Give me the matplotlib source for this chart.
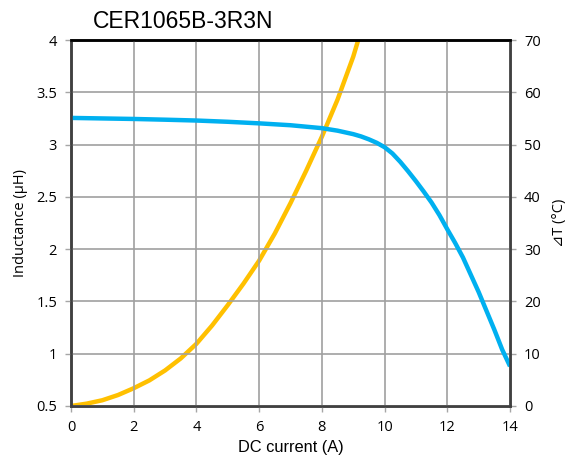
import matplotlib
matplotlib.use("Agg")
import matplotlib.pyplot as plt

# DC current (A) vs inductance (uH)
current_L = [0, 1, 2, 3, 4, 5, 6, 7, 8, 8.5, 9, 9.25, 9.5, 9.75, 10, 10.25, 10.5, 10.75, 11, 11.25, 11.5,
             11.75, 12, 12.25, 12.5, 12.75, 13, 13.25, 13.5, 13.75, 14]
inductance = [3.255, 3.25, 3.245, 3.238, 3.23, 3.218, 3.203, 3.185, 3.157, 3.133, 3.1, 3.078, 3.05, 3.017,
              2.975, 2.915, 2.835, 2.745, 2.65, 2.55, 2.445, 2.325, 2.19, 2.06, 1.92, 1.755, 1.59, 1.41,
              1.23, 1.04, 0.88]

# DC current (A) vs temperature rise (C)
current_T = [0, 0.5, 1, 1.5, 2, 2.5, 3, 3.5, 4, 4.5, 5, 5.5, 6, 6.5, 7, 7.5, 8, 8.5, 9, 9.16]
temp_rise = [0, 0.45, 1.1, 2.1, 3.4, 4.9, 6.8, 9.1, 11.9, 15.4, 19.3, 23.4, 27.8, 33, 38.8, 45, 51.5, 58.6,
             66.8, 70]

x_ticks = [0, 2, 4, 6, 8, 10, 12, 14]
l_ticks = [0.5, 1, 1.5, 2, 2.5, 3, 3.5, 4]
t_ticks = [0, 10, 20, 30, 40, 50, 60, 70]

tick_font = ['Open Sans', 'DejaVu Sans']
arial = ['Liberation Sans', 'DejaVu Sans']

fig = plt.figure(figsize=(5.74, 4.68), dpi=100)
ax = fig.add_axes([0.1237, 0.1325, 0.7648, 0.782])
ax2 = ax.twinx()

ax.set_xlim(0, 14)
ax.set_ylim(0.5, 4)
ax2.set_ylim(0, 70)
ax.set_xticks(x_ticks)
ax.set_yticks(l_ticks)
ax2.set_yticks(t_ticks)
ax.set_xticklabels([str(v) for v in x_ticks], family=tick_font, fontsize=10.5)
ax.set_yticklabels(['0.5', '1', '1.5', '2', '2.5', '3', '3.5', '4'], family=tick_font, fontsize=10.5)
ax2.set_yticklabels([str(v) for v in t_ticks], family=tick_font, fontsize=10.5)

ax.grid(True, color='#a0a0a0', linewidth=1.2)
ax.set_axisbelow(True)

for a in (ax, ax2):
    a.tick_params(direction='out', length=4, width=1, color='#a6a6a6', pad=6)
    for side in a.spines:
        a.spines[side].set_color('#404040')
        a.spines[side].set_linewidth(1.8)
ax.spines['top'].set_color('black')
ax2.spines['top'].set_color('black')

ax2.plot(current_T, temp_rise, color='#FFC000', linewidth=3.2, solid_capstyle='butt',
         solid_joinstyle='round')
ax.plot(current_L, inductance, color='#00B0F0', linewidth=3.2, solid_capstyle='butt',
        solid_joinstyle='round')
ax.set_zorder(ax2.get_zorder() + 1)
ax.patch.set_visible(False)

ax.set_xlabel('DC current (A)', family=arial, fontsize=11.8, labelpad=4)
ax.set_ylabel('Inductance (µH)', family=tick_font, fontsize=10.5, labelpad=6)
ax2.set_ylabel('⊿T (°C)', family=tick_font, fontsize=10.5, labelpad=8)

fig.text(0.162, 0.955, 'CER1065B-3R3N', family=arial, fontsize=16.5, ha='left', va='center')

fig.savefig('out.png', dpi=100)
